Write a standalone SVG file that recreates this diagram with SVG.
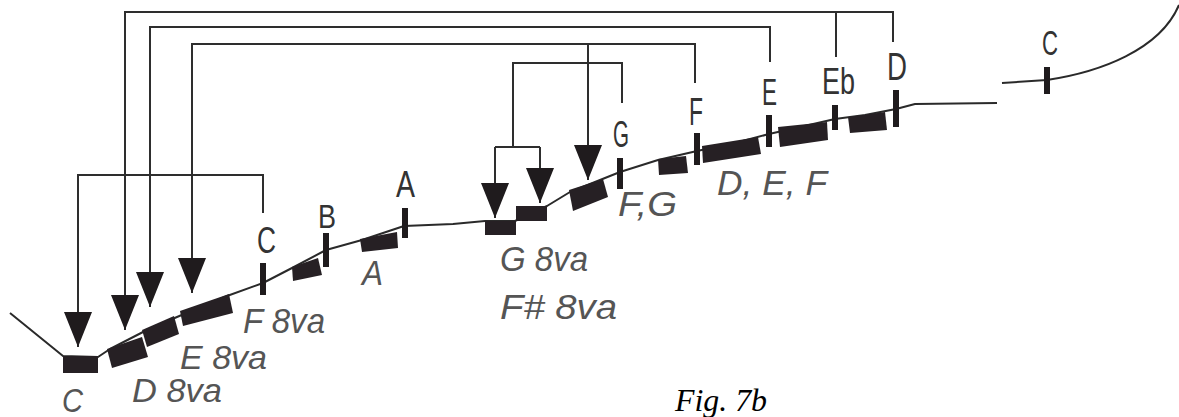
<svg xmlns="http://www.w3.org/2000/svg" width="1179" height="417" viewBox="0 0 1179 417">
<style>
  .conn { fill: none; stroke: #2e2e2e; stroke-width: 2; }
  .curve { fill: none; stroke: #2a2a2a; stroke-width: 2; stroke-linejoin: round; }
  .tick { stroke: #1f1b1d; stroke-width: 6; }
  .blk { fill: #262024; }
  .lbl { font-family: "Liberation Sans", Arial, sans-serif; font-size: 36px; fill: #333; }
  .ital { font-family: "Liberation Sans", Arial, sans-serif; font-size: 35px; font-style: italic; fill: #555; }
  .cap { font-family: "Liberation Serif", "Times New Roman", serif; font-size: 31px; font-style: italic; fill: #000; }
</style>
<defs>
  <marker id="arr" markerUnits="userSpaceOnUse" viewBox="0 -14 35 28" refX="35" refY="0" markerWidth="35" markerHeight="28" orient="auto">
    <path d="M0,-14 L35,0 L0,14 Z" fill="#1f1b1d"/>
  </marker>
</defs>
<rect width="1179" height="417" fill="#fff"/>

<g id="contour">
  <path class="curve" d="M10,313 L63,356 L98,357 L110,349 L143,332 L177,317 L227,296 L263,283 L292,268 L326,250 L362,240 L404,226 L453,224 L485,221 L515,221 L547,206 L570,192 L620,172 L658,160 L697,151 L735,143 L769,134 L800,127 L835,119 L865,115 L896,109 L915,104 L997,103"/>
  <path class="curve" d="M1002,83 L1047,80 C1100,72 1160,50 1179,5"/>
</g>

<g id="connectors">
  <path class="conn" d="M893,42 V12 H125 V330" marker-end="url(#arr)"/>
  <path class="conn" d="M836,57 V12"/>
  <path class="conn" d="M770,62 V27 H150 V307" marker-end="url(#arr)"/>
  <path class="conn" d="M695,83 V44 H192 V293" marker-end="url(#arr)"/>
  <path class="conn" d="M588,44 V180" marker-end="url(#arr)"/>
  <path class="conn" d="M263,213 V175 H78 V347" marker-end="url(#arr)"/>
  <path class="conn" d="M622,103 V63 H513 V147"/>
  <path class="conn" d="M495,147 H540"/>
  <path class="conn" d="M495,147 V218" marker-end="url(#arr)"/>
  <path class="conn" d="M540,147 V203" marker-end="url(#arr)"/>
</g>

<g id="node-C-top">
  <line class="tick" x1="263" y1="263" x2="263" y2="295"/>
  <text class="lbl" x="257" y="253" textLength="19" lengthAdjust="spacingAndGlyphs">C</text>
</g>
<g id="node-B">
  <line class="tick" x1="326" y1="233" x2="326" y2="267"/>
  <text class="lbl" x="318" y="228" textLength="18" lengthAdjust="spacingAndGlyphs" style="font-size:33px">B</text>
</g>
<g id="node-A">
  <line class="tick" x1="405" y1="208" x2="405" y2="238"/>
  <text class="lbl" x="396" y="197" textLength="19" lengthAdjust="spacingAndGlyphs" style="font-size:37px">A</text>
</g>
<g id="node-G">
  <line class="tick" x1="620" y1="158" x2="620" y2="189"/>
  <text class="lbl" x="613" y="147" textLength="16" lengthAdjust="spacingAndGlyphs" style="font-size:36px">G</text>
</g>
<g id="node-F">
  <line class="tick" x1="697" y1="133" x2="697" y2="165"/>
  <text class="lbl" x="689" y="125" textLength="14" lengthAdjust="spacingAndGlyphs" style="font-size:38px">F</text>
</g>
<g id="node-E">
  <line class="tick" x1="769" y1="115" x2="769" y2="147"/>
  <text class="lbl" x="762" y="105" textLength="15" lengthAdjust="spacingAndGlyphs" style="font-size:36px">E</text>
</g>
<g id="node-Eb">
  <line class="tick" x1="835" y1="105" x2="835" y2="130"/>
  <text class="lbl" x="822" y="94" textLength="33" lengthAdjust="spacingAndGlyphs">Eb</text>
</g>
<g id="node-D">
  <line class="tick" x1="896" y1="90" x2="896" y2="127"/>
  <text class="lbl" x="887" y="80" textLength="20" lengthAdjust="spacingAndGlyphs" style="font-size:38px">D</text>
</g>
<g id="node-C-right">
  <line class="tick" x1="1047" y1="67" x2="1047" y2="94"/>
  <text class="lbl" x="1042" y="55" textLength="16" lengthAdjust="spacingAndGlyphs" style="font-size:35px">C</text>
</g>

<g id="blocks">
  <rect class="blk" x="63" y="356" width="35" height="17"/>
  <polygon class="blk" points="107,349 142,337 148,357 112,368"/>
  <polygon class="blk" points="142,330 174,316 179,334 147,347"/>
  <polygon class="blk" points="180,311 229,294 233,313 183,326"/>
  <polygon class="blk" points="292,267 318,258 322,275 293,281"/>
  <polygon class="blk" points="360,239 397,232 398,248 362,252"/>
  <rect class="blk" x="485" y="221" width="31" height="14"/>
  <rect class="blk" x="516" y="206" width="31" height="15"/>
  <polygon class="blk" points="569,190 603,179 608,197 573,211"/>
  <polygon class="blk" points="658,159 686,156 688,173 659,175"/>
  <polygon class="blk" points="702,146 758,137 761,154 703,163"/>
  <polygon class="blk" points="778,127 827,122 828,140 780,147"/>
  <polygon class="blk" points="848,117 885,112 887,130 850,133"/>
</g>

<g id="labels">
  <text class="ital" x="62" y="412" textLength="21" lengthAdjust="spacingAndGlyphs" style="font-size:33px">C</text>
  <text class="ital" x="132" y="402" textLength="90" lengthAdjust="spacingAndGlyphs" style="font-size:33px">D 8va</text>
  <text class="ital" x="180" y="369" textLength="87" lengthAdjust="spacingAndGlyphs" style="font-size:33px">E 8va</text>
  <text class="ital" x="243" y="333" textLength="82" lengthAdjust="spacingAndGlyphs">F 8va</text>
  <text class="ital" x="362" y="285" textLength="21" lengthAdjust="spacingAndGlyphs">A</text>
  <text class="ital" x="500" y="271" textLength="88" lengthAdjust="spacingAndGlyphs">G 8va</text>
  <text class="ital" x="500" y="319" textLength="117" lengthAdjust="spacingAndGlyphs">F# 8va</text>
  <text class="ital" x="618" y="216" textLength="59" lengthAdjust="spacingAndGlyphs">F,G</text>
  <text class="ital" x="717" y="195" textLength="110" lengthAdjust="spacingAndGlyphs">D, E, F</text>
  <text class="cap" x="675" y="411" textLength="92" lengthAdjust="spacingAndGlyphs">Fig. 7b</text>
</g>
</svg>
